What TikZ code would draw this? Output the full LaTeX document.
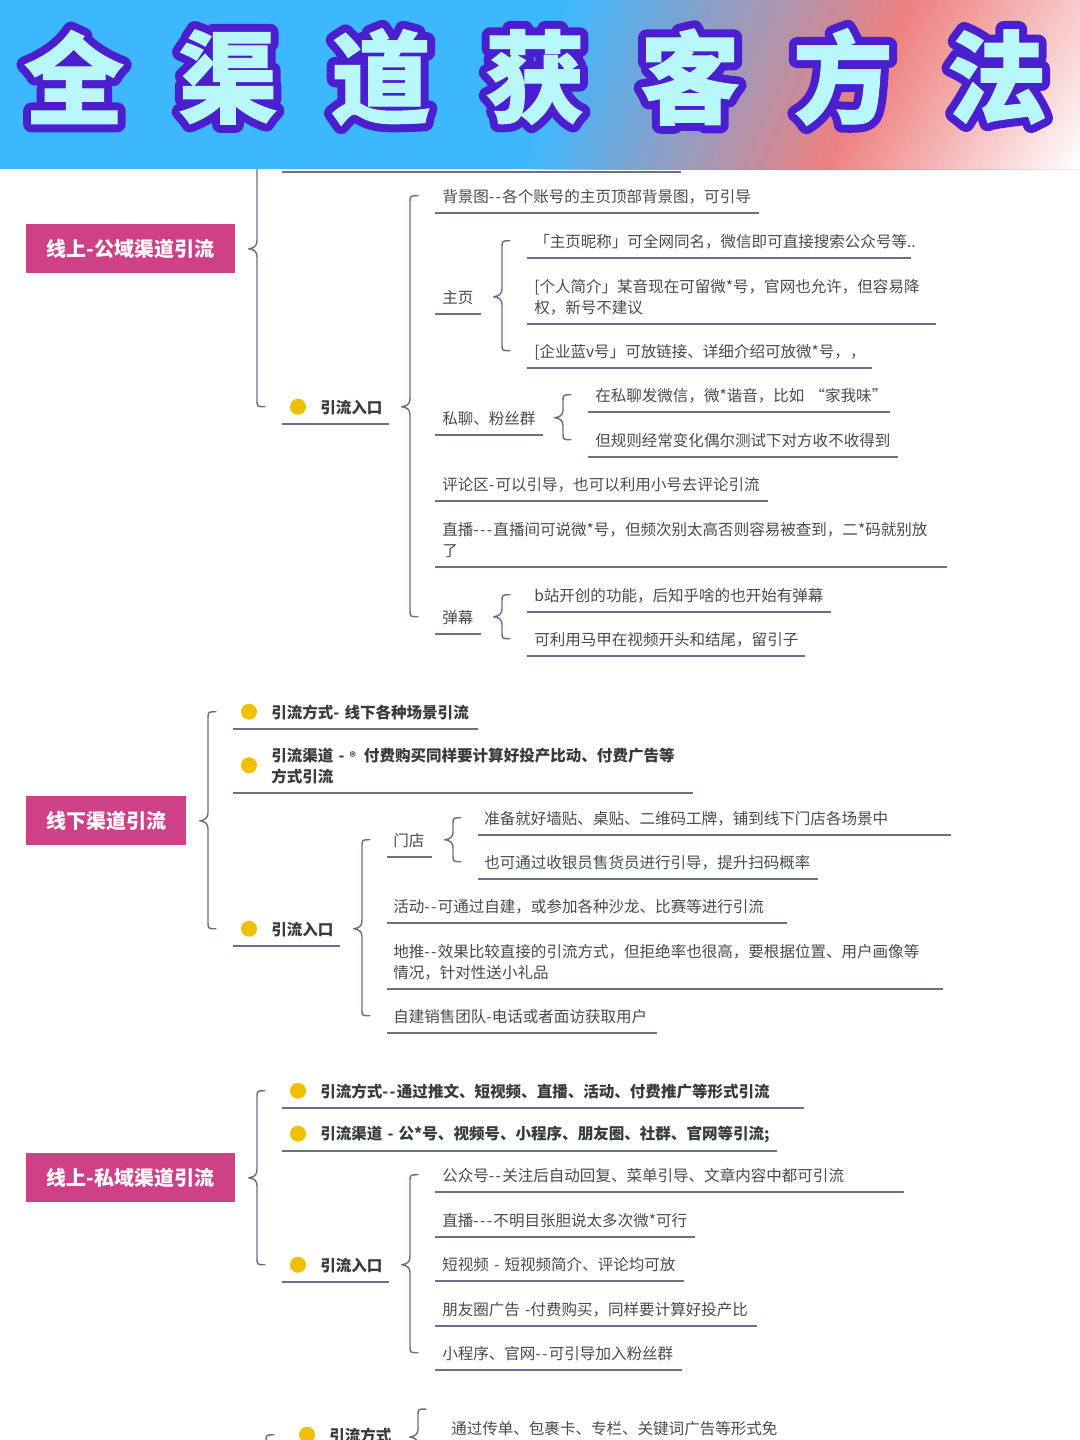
\documentclass[tikz,border=0pt]{standalone}
\usepackage{fontspec}
\usetikzlibrary{calc}
\setmainfont{Noto Sans CJK SC}
\newfontfamily\titleout[FakeBold=17]{Noto Sans CJK SC}
\newfontfamily\titlein[FakeBold=1]{Noto Sans CJK SC}
\newcommand\hh{-\kern1pt}
\definecolor{linec}{HTML}{6E6E88}
\definecolor{txtc}{HTML}{4A4A4A}
\definecolor{boldc}{HTML}{3A3A3A}
\definecolor{rootc}{HTML}{CF4186}
\definecolor{dotc}{HTML}{EFC000}
\definecolor{bannerblue}{HTML}{3DB8FF}
\definecolor{bannerred}{HTML}{EE8080}
\definecolor{titlefill}{HTML}{B8F8FA}
\definecolor{titleline}{HTML}{4B1FCF}
\tikzset{
  txt/.style={inner sep=0pt,align=left,text=txtc,font=\fontsize{11.65pt}{15.75pt}\selectfont},
  strong/.style={text=boldc,font=\fontsize{11.65pt}{15.75pt}\selectfont\bfseries},
  under/.style={draw=linec,line width=1.1pt},
  brc/.style={draw=linec,line width=1.1pt,line cap=round,line join=round},
  rootbox/.style={fill=rootc,inner sep=0pt,text=white,font=\fontsize{15pt}{18pt}\selectfont\bfseries},
  dotmark/.style={circle,fill=dotc,inner sep=0pt,minimum size=12pt},
  titlebg/.style={inner sep=0pt,text=titleline,font=\titleout\bfseries\fontsize{75pt}{75pt}\selectfont},
  titlefg/.style={inner sep=0pt,text=titlefill,font=\titlein\bfseries\fontsize{75pt}{75pt}\selectfont},
}
% name, pad, x0, x1, yUnderline, lines, style, text
\newcommand\nd[8]{%
  \pgfmathsetmacro\wdd{(#4-#3)*0.75}%
  \pgfmathsetmacro\htt{(34+21*(#6-1))*0.75}%
  \pgfmathsetmacro\padd{#2*0.75}%
  \node[txt,#7,anchor=south west,text width=\wdd pt,minimum height=\htt pt] (#1) at (#3,#5) {\leftskip=\padd pt #8\par\kern-1.5pt};
  \draw[under] (#1.south west) -- (#1.south east);
}
\newcommand\dnd[6]{%
  \nd{#1}{38}{#2}{#3}{#4}{#5}{strong}{#6}
  \node[dotmark] (#1d) at ([xshift=12pt]#1.west) {};
}
% parent point, first child point, last child point
\newcommand\brc[3]{%
  \draw[brc] let \p1=#1,\p2=#2,\p3=#3 in
    ({\x2-12.75pt},\y2) .. controls ({\x2-18.75pt},\y2) and ({\x2-18.75pt},\y2) .. ({\x2-18.75pt},{\y2-5.25pt})
    -- ({\x2-18.75pt},{\y1+6pt})
    .. controls ({\x2-18.75pt},{\y1+2pt}) and ({\x2-21pt},{\y1+0.5pt}) .. ({\x2-25pt},\y1)
    .. controls ({\x2-21pt},{\y1-0.5pt}) and ({\x2-18.75pt},{\y1-2pt}) .. ({\x2-18.75pt},{\y1-6pt})
    -- ({\x2-18.75pt},{\y3+5.25pt})
    .. controls ({\x2-18.75pt},\y3) and ({\x2-18.75pt},\y3) .. ({\x2-12.75pt},\y3);
}
\begin{document}
\begin{tikzpicture}[x=0.75pt,y=-0.75pt]
\useasboundingbox (0,0) rectangle (1080,1440);
\clip (0,0) rectangle (1080,1440);
\fill[white] (0,0) rectangle (1080,1440);

% ---------- section 1
\node[rootbox,minimum width=156.75pt,minimum height=36.75pt,anchor=north west] (r1) at (26,224) {\raisebox{-0.75pt}{线上-公域渠道引流}};
\nd{h0}{0}{282}{680}{172}{1}{}{}
\dnd{a}{282}{388}{424}{1}{引流入口}
\brc{(r1.east)}{(h0.west)}{(a.west)}
\nd{a1}{7}{435}{758}{213}{1}{}{背景图\hh\hh 各个账号的主页顶部背景图，可引导}
\nd{a2}{7}{435}{480}{314}{1}{}{主页}
\nd{a3}{7}{435}{542}{435}{1}{}{私聊、粉丝群}
\nd{a4}{7}{435}{767}{501}{1}{}{评论区\hh 可以引导，也可以利用小号去评论引流}
\nd{a5}{7}{435}{946}{567}{2}{}{直播\hh\hh\hh 直播间可说微*号，但频次别太高否则容易被查到，二*码就别放\\了}
\nd{a6}{7}{435}{480}{634}{1}{}{弹幕}
\brc{(a.west)}{(a1.west)}{(a6.west)}
\nd{b1}{7}{527}{910}{258}{1}{}{「主页昵称」可全网同名，微信即可直接搜索公众号等..}
\nd{b2}{7}{527}{935}{324}{2}{}{[个人简介」某音现在可留微*号，官网也允许，但容易降\\权，新号不建议}
\nd{b3}{7}{527}{871}{368}{1}{}{[企业蓝v号」可放链接、详细介绍可放微*号，，}
\brc{(a2.west)}{(b1.west)}{(b3.west)}
\nd{c1}{7}{588}{889}{412}{1}{}{在私聊发微信，微*谐音，比如 “家我味”}
\nd{c2}{7}{588}{897}{457}{1}{}{但规则经常变化偶尔测试下对方收不收得到}
\brc{(a3.west)}{(c1.west)}{(c2.west)}
\nd{d1}{7}{527}{830}{612}{1}{}{b站开创的功能，后知乎啥的也开始有弹幕}
\nd{d2}{7}{527}{804}{656}{1}{}{可利用马甲在视频开头和结尾，留引子}
\brc{(a6.west)}{(d1.west)}{(d2.west)}

% ---------- section 2
\node[rootbox,minimum width=120pt,minimum height=36.75pt,anchor=north west] (r2) at (26,796) {\raisebox{-0.75pt}{线下渠道引流}};
\dnd{e1}{233}{477}{729}{1}{引流方式- 线下各种场景引流}
\dnd{e2}{233}{692}{793}{2}{引流渠道 - {\fontsize{9pt}{9pt}\selectfont ®}\kern2pt{} 付费购买同样要计算好投产比动、付费广告等\\方式引流}
\dnd{e3}{233}{339}{946}{1}{引流入口}
\brc{(r2.east)}{(e1.west)}{(e3.west)}
\nd{f1}{6}{387}{431}{857}{1}{}{门店}
\nd{f2}{6}{387}{786}{923}{1}{}{活动\hh\hh 可通过自建，或参加各种沙龙、比赛等进行引流}
\nd{f3}{6}{387}{942}{989}{2}{}{地推\hh\hh 效果比较直接的引流方式，但拒绝率也很高，要根据位置、用户画像等\\情况，针对性送小礼品}
\nd{f4}{6}{387}{656}{1033}{1}{}{自建销售团队-电话或者面访获取用户}
\brc{(e3.west)}{(f1.west)}{(f4.west)}
\nd{g1}{6}{478}{950}{835}{1}{}{准备就好墙贴、桌贴、二维码工牌，铺到线下门店各场景中}
\nd{g2}{6}{478}{817}{879}{1}{}{也可通过收银员售货员进行引导，提升扫码概率}
\brc{(f1.west)}{(g1.west)}{(g2.west)}

% ---------- section 3
\node[rootbox,minimum width=156.75pt,minimum height=36.75pt,anchor=north west] (r3) at (26,1153) {\raisebox{-0.75pt}{线上-私域渠道引流}};
\dnd{k1}{282}{803}{1108}{1}{引流方式\hh\hh 通过推文、短视频、直播、活动、付费推广等形式引流}
\dnd{k2}{282}{776}{1151}{1}{引流渠道 - 公*号、视频号、小程序、朋友圈、社群、官网等引流;}
\dnd{k3}{282}{388}{1282}{1}{引流入口}
\brc{(r3.east)}{(k1.west)}{(k3.west)}
\nd{m1}{7}{435}{903}{1192}{1}{}{公众号\hh\hh 关注后自动回复、菜单引导、文章内容中都可引流}
\nd{m2}{7}{435}{694}{1237}{1}{}{直播\hh\hh\hh 不明目张胆说太多次微*可行}
\nd{m3}{7}{435}{683}{1281}{1}{}{短视频 - 短视频简介、评论均可放}
\nd{m4}{7}{435}{756}{1326}{1}{}{朋友圈广告 -付费购买，同样要计算好投产比}
\nd{m5}{7}{435}{681}{1370}{1}{}{小程序、官网\hh\hh 可引导加入粉丝群}
\brc{(k3.west)}{(m1.west)}{(m5.west)}

% ---------- section 4 (cut off by the page edge)
\coordinate (r4) at (235,1600);
\coordinate (n9) at (291,1700);
\dnd{n1}{291}{397}{1452}{1}{引流方式}
\brc{(r4)}{(n1.west)}{(n9)}
\coordinate (p0) at (443,1409);
\coordinate (p9) at (443,1470);
\coordinate (p1) at (397,1437);
\nd{q1}{8}{443}{800}{1445}{1}{}{通过传单、包裹卡、专栏、关键词广告等形式免}
\brc{(p1)}{(p0)}{(p9)}

% ---------- banner
\begin{scope}
\clip (0,0) rectangle (1080,169);
\fill[bannerblue] (0,0) rectangle (1080,169);
\foreach \s in {0,1,...,50}{
  \pgfmathsetmacro\tx{560+\s*7}
  \pgfmathsetmacro\bx{520+\s*6.06}
  \pgfmathsetmacro\pc{100-2*\s}
  \fill[bannerblue!\pc!bannerred] (\tx,0) -- (1200,0) -- (1200,169) -- (\bx,169) -- cycle;
}
\foreach \s in {1,...,50}{
  \pgfmathsetmacro\tx{910+\s*5.8}
  \pgfmathsetmacro\bx{823+\s*5.04}
  \pgfmathsetmacro\pc{100-2*\s}
  \fill[bannerred!\pc!white] (\tx,0) -- (1200,0) -- (1200,169) -- (\bx,169) -- cycle;
}
\end{scope}
\foreach \cx/\ch [count=\i] in {74/全,228/渠,381/道,535/获,690/客,843/方,997/法}{
  \node[titlebg] (to\i) at (\cx,77) {\special{pdf:code 1 j 1 J}\ch};
  \node[titlefg] (tf\i) at (\cx,77) {\ch};
}
\end{tikzpicture}
\end{document}
